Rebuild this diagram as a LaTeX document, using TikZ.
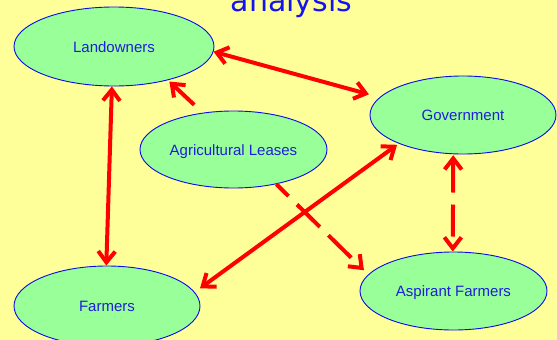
\documentclass[tikz,border=0pt]{standalone}
\usepackage{fontspec}
\setmainfont{Liberation Sans}
\newfontfamily\titlefont{DejaVu Sans}
\usetikzlibrary{shapes.geometric,arrows.meta}
\definecolor{bgyellow}{RGB}{255,255,153}
\definecolor{nodegreen}{RGB}{153,255,153}
\definecolor{nodeblue}{RGB}{10,10,235}
\definecolor{textblue}{RGB}{30,30,220}
\definecolor{titleblue}{RGB}{20,20,240}
\definecolor{arrowred}{RGB}{255,0,0}
\begin{document}
\begin{tikzpicture}[x=1pt,y=-1pt,
  oval/.style={ellipse, draw=nodeblue, line width=0.9pt, fill=nodegreen, inner sep=0pt,
    text=textblue, font=\fontsize{15}{18}\selectfont, text height=11pt, text depth=0pt},
  barb/.tip={Straight Barb[length=11pt,width=17pt]},
  link/.style={draw=arrowred, line width=4pt, -barb},
  both/.style={draw=arrowred, line width=4pt, barb-barb},
  longdash/.style={dash pattern=on 32pt off 12pt}]
\fill[bgyellow] (0,0) rectangle (557,340);
\useasboundingbox (0,0) rectangle (557,340);
\clip (0,0) rectangle (557,340);
\node[anchor=base, text=titleblue, font=\titlefont\fontsize{30}{36}\selectfont, inner sep=0pt] (title) at (291.5,11) {analysis};
\node[oval, minimum width=200pt, minimum height=79pt] (land) at (114,46.5) {Landowners};
\node[oval, minimum width=186pt, minimum height=78pt] (gov) at (463,115) {Government};
\node[oval, minimum width=187pt, minimum height=77pt] (agr) at (233.5,149.5) {Agricultural Leases};
\node[oval, minimum width=186pt, minimum height=80pt] (farm) at (107,306) {Farmers};
\node[oval, minimum width=187pt, minimum height=78pt] (asp) at (453.5,291) {Aspirant Farmers};
\draw[both, shorten >=11pt] (land.-3) -- (gov.168);
\draw[both] (land.-93) -- (farm.91);
\draw[link, shorten <=11.5pt, shorten >=2pt] (agr.130) -- (land.-32);
\draw[both, shorten <=2pt, shorten >=6.5pt] (gov.204) -- (farm.9);
\draw[link, longdash, dash phase=15pt, shorten >=6pt] (agr.-39) -- (asp.169);
\draw[both, longdash, shorten <=1pt] (gov.-104.5) -- (asp.91);
\end{tikzpicture}
\end{document}
